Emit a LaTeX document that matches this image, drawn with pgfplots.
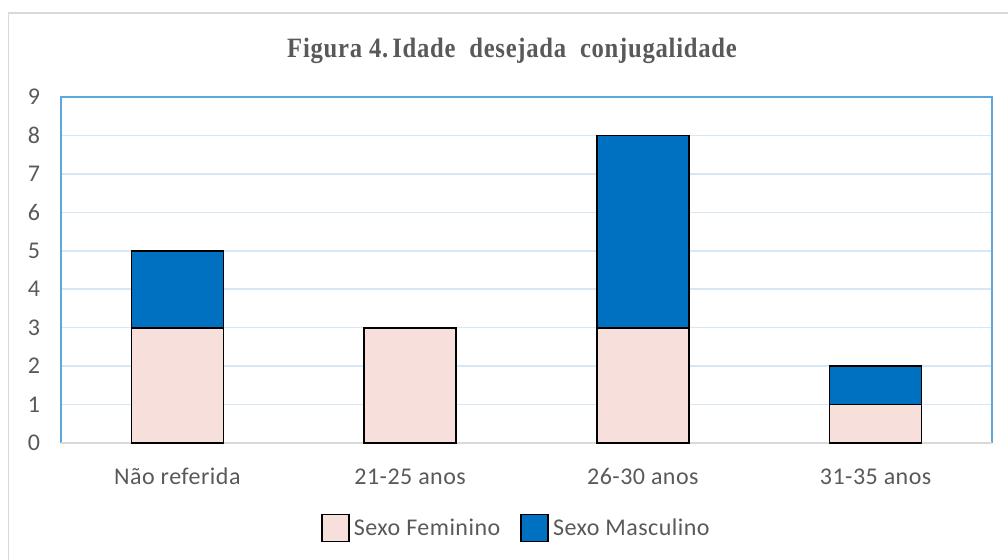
\documentclass[border=0pt]{standalone}
\usepackage{pgfplots}
\pgfplotsset{compat=1.18}
\usepackage{fontspec}
\setmainfont[LetterSpace=2]{Carlito}
\newfontfamily\titlefont[LetterSpace=3]{Liberation Serif}
\definecolor{txtgray}{HTML}{595959}
\definecolor{fem}{HTML}{F7DFDC}
\definecolor{masc}{HTML}{0070C0}
\definecolor{frameblue}{HTML}{5AA8DC}
\definecolor{gridblue}{HTML}{D6E8F5}
\definecolor{bordergray}{HTML}{D9D9D9}
\pgfplotstableread{
x fem masc
0 3 2
1 3 0
2 3 5
3 1 1
}\datatable
\begin{document}
\begin{tikzpicture}
\useasboundingbox (0,0) rectangle (504pt,279.5pt);
\draw[bordergray, line width=0.8pt] (4.25pt,-10pt) rectangle (520pt,273pt);
\node[anchor=base, text=txtgray, inner sep=0pt] at (256pt,251pt) {\scalebox{0.88}[1]{\titlefont\bfseries\fontsize{14pt}{16pt}\selectfont Figura 4.\,Idade\ \ desejada\ \ conjugalidade}};
\begin{axis}[
  at={(30.5pt,58pt)}, anchor=south west,
  scale only axis, width=465.5pt, height=173pt,
  xmin=-0.5, xmax=3.5, ymin=0, ymax=9,
  ybar stacked, bar width=46pt,
  axis line style={draw=none},
  ymajorgrids, grid style={gridblue, line width=0.75pt},
  ytick={0,1,...,9},
  ytick style={draw=none},
  xtick={0,1,2,3},
  xticklabels={Não referida, 21-25 anos, 26-30 anos, 31-35 anos},
  xtick style={draw=none},
  extra x ticks={-0.5,0.5,1.5,2.5,3.5},
  extra x tick labels={},
  extra x tick style={grid=none, tick align=outside, major tick length=3.5pt, tick style={draw=bordergray, line width=0.9pt}},
  tick label style={text=txtgray, font=\fontsize{12pt}{14pt}\selectfont},
  /pgf/number format/assume math mode=true,
  yticklabel style={xshift=-7pt},
  xticklabel style={text height=8pt, text depth=2.5pt, yshift=-9pt},
  legend columns=2,
  legend style={at={(0.4903,-0.2457)}, anchor=center, draw=none, fill=none,
    font=\fontsize{12pt}{14pt}\selectfont, text=txtgray,
    /tikz/every even column/.append style={column sep=8pt},
    inner sep=0pt},
  legend image code/.code={\draw[#1, draw=black, line width=0.85pt] (0pt,-6.5pt) rectangle (13.5pt,7pt);},
  clip=false,
]
\addplot[fill=fem, draw=black, line width=0.85pt] table[x=x, y=fem] {\datatable};
\addplot[fill=masc, draw=black, line width=0.85pt] table[x=x, y=masc] {\datatable};
\legend{Sexo Feminino, Sexo Masculino}
\draw[bordergray, line width=0.9pt] (rel axis cs:0,0) -- (rel axis cs:1,0);
\draw[frameblue, line width=0.9pt] (rel axis cs:0,0) -- (rel axis cs:0,1) -- (rel axis cs:1,1) -- (rel axis cs:1,0);
\end{axis}
\end{tikzpicture}
\end{document}
